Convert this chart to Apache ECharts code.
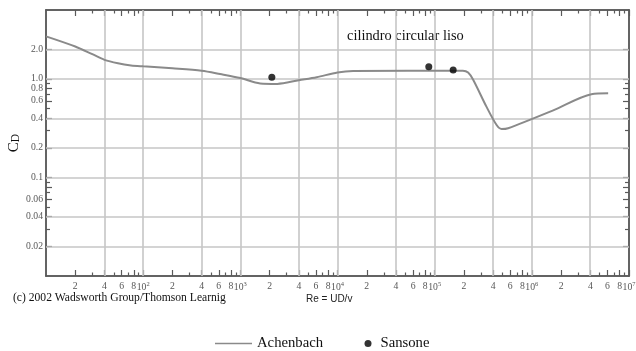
<!DOCTYPE html>
<html>
<head>
<meta charset="utf-8" />
<title>cilindro circular liso</title>
<style>
  html, body { margin: 0; padding: 0; background: #fff; }
  #chart { width: 636px; height: 351px; }
</style>
</head>
<body>
<div id="chart"></div>
<script src="https://cdn.jsdelivr.net/npm/echarts@6/dist/echarts.min.js"></script>
<script>
// Achenbach curve (Re, C_D)
var achenRe = [10, 20, 30, 40, 55, 75, 100, 200, 400, 620, 1000, 1600, 2400, 4000, 6100, 10000, 14500, 195000, 221000, 249000, 342000, 434000, 488000, 570000, 1660000, 4100000, 6100000];
var achenCd = [2.7, 2.13, 1.78, 1.56, 1.44, 1.37, 1.34, 1.28, 1.21, 1.12, 1.02, 0.9, 0.89, 0.97, 1.04, 1.16, 1.2, 1.21, 1.16, 0.98, 0.52, 0.34, 0.31, 0.316, 0.48, 0.7, 0.715];

// Sansone points
var sansRe = [2110, 87000, 155000];
var sansCd = [1.04, 1.33, 1.23];

// axes (log scales)
var xMinRe = 10, xMaxRe = 1e7;
var yMinCd = 0.01, yMaxCd = 5;
var xDecades = [10, 100, 1000, 1e4, 1e5, 1e6];
var xLongMant = [2, 4, 6, 8, 10];
var xShortMant = [3, 5, 7, 9];
var xGridRe = [40, 100, 400, 1000, 4000, 1e4, 4e4, 1e5, 4e5, 1e6, 4e6];
var yLongCd = [0.02, 0.04, 0.06, 0.08, 0.1, 0.2, 0.4, 0.6, 0.8, 1, 2];
var yShortCd = [0.03, 0.05, 0.07, 0.09, 0.3, 0.5, 0.7, 0.9];
var yLabelCd = [2, 1, 0.8, 0.6, 0.4, 0.2, 0.1, 0.06, 0.04, 0.02];
var yLabelText = ['2.0', '1.0', '0.8', '0.6', '0.4', '0.2', '0.1', '0.06', '0.04', '0.02'];
var yGridCd = [2, 1, 0.4, 0.2, 0.1, 0.04, 0.02];

var lg = function (v) { return Math.log10(v); };

var xLong = [], xShort = [], xLabels = [];
xDecades.forEach(function (d) {
  xLongMant.forEach(function (m) { xLong.push(lg(d * m)); xLabels.push(lg(d * m)); });
  xShortMant.forEach(function (m) { xShort.push(lg(d * m)); });
});

var axisColor = '#5a5a5a';
var labelColor = '#555';
var curveColor = '#8a8a8a';
var serif = '"Liberation Serif", "Times New Roman", serif';

function xAxis(pos, ticks, len, withLabels) {
  return {
    type: 'value', position: pos, min: lg(xMinRe), max: lg(xMaxRe),
    axisLine: { show: true, onZero: false, lineStyle: { color: axisColor, width: 1.5 } },
    axisTick: { show: true, inside: true, length: len, customValues: ticks,
      lineStyle: { color: axisColor, width: 1.2 } },
    axisLabel: withLabels ? {
      show: true, customValues: xLabels, margin: 5,
      color: labelColor, fontFamily: serif, fontSize: 9.7,
      formatter: function (v) {
        var k = Math.floor(v + 1e-6);
        var m = Math.round(Math.pow(10, v - k));
        if (m === 1) return '10{sup|' + k + '}';
        return String(m);
      },
      rich: { sup: { fontSize: 6.5, fontFamily: serif, color: labelColor, verticalAlign: 'top', padding: [0, 0, 5, 0] } }
    } : { show: false },
    splitLine: { show: false }
  };
}

function yAxis(pos, ticks, len, withLabels) {
  var ax = {
    type: 'value', position: pos, min: lg(yMinCd), max: lg(yMaxCd),
    axisLine: { show: true, onZero: false, lineStyle: { color: axisColor, width: 1.5 } },
    axisTick: { show: true, inside: true, length: len, customValues: ticks.map(lg),
      lineStyle: { color: axisColor, width: 1.2 } },
    axisLabel: withLabels ? {
      show: true, customValues: yLabelCd.map(lg), margin: 3,
      color: labelColor, fontFamily: serif, fontSize: 9.7,
      formatter: function (v) {
        for (var i = 0; i < yLabelCd.length; i++) {
          if (Math.abs(lg(yLabelCd[i]) - v) < 1e-6) return yLabelText[i];
        }
        return '';
      }
    } : { show: false },
    splitLine: { show: false }
  };
  if (withLabels) {
    ax.name = 'C{sub|D}';
    ax.nameLocation = 'middle';
    ax.nameGap = 24;
    ax.nameMoveOverlap = false;
    ax.nameRotate = 90;
    ax.nameTextStyle = {
      color: '#111', fontFamily: serif, fontSize: 15,
      rich: { sub: { fontSize: 11.5, fontFamily: serif, color: '#111', padding: [3, 0, 0, 0] } }
    };
  }
  return ax;
}

var chart = echarts.init(document.getElementById('chart'));
chart.setOption({
  animation: false,
  backgroundColor: '#fff',
  grid: { left: 46, right: 7, top: 10, bottom: 75, outerBoundsMode: 'none' },
  xAxis: [
    xAxis('bottom', xLong, 6, true),
    xAxis('bottom', xShort, 3.5, false),
    xAxis('top', xLong, 6, false),
    xAxis('top', xShort, 3.5, false)
  ],
  yAxis: [
    yAxis('left', yLongCd, 6, true),
    yAxis('left', yShortCd, 4, false),
    yAxis('right', yLongCd, 6, false),
    yAxis('right', yShortCd, 4, false)
  ],
  legend: [
    {
      data: [{ name: 'Achenbach', icon: 'rect', itemStyle: { color: curveColor } }],
      left: 215, top: 336, itemWidth: 37, itemHeight: 1.6, padding: 0,
      textStyle: { fontFamily: serif, fontSize: 14.7, color: '#111' }
    },
    {
      data: [{ name: 'Sansone', icon: 'circle' }], left: 364.5, top: 336, itemWidth: 15, itemHeight: 7, padding: 0,
      textStyle: { fontFamily: serif, fontSize: 14.7, color: '#111' }
    }
  ],
  graphic: [
    { type: 'text', left: 347, top: 29,
      style: { text: 'cilindro circular liso', font: '14.4px ' + serif, fill: '#111' } },
    { type: 'text', left: 13, top: 292,
      style: { text: '(c) 2002 Wadsworth Group/Thomson Learnig', font: '11.6px ' + serif, fill: '#111' } },
    { type: 'text', left: 306, top: 294,
      style: { text: 'Re = UD/v', font: '10px "Liberation Sans", Arial, sans-serif', fill: '#222' } }
  ],
  series: [
    {
      name: 'grid', type: 'line', data: [], silent: true, z: 1,
      markLine: {
        silent: true, symbol: ['none', 'none'], z: 1, animation: false,
        label: { show: false },
        lineStyle: { color: '#c6c6c6', width: 1.6, type: 'solid' },
        data: xGridRe.map(function (v) { return { xAxis: lg(v) }; })
          .concat(yGridCd.map(function (v) { return { yAxis: lg(v) }; }))
      }
    },
    {
      name: 'Achenbach', type: 'line', smooth: 0.3, symbol: 'none', z: 3,
      lineStyle: { color: curveColor, width: 2 },
      itemStyle: { color: curveColor },
      data: achenRe.map(function (r, i) { return [lg(r), lg(achenCd[i])]; })
    },
    {
      name: 'Sansone', type: 'scatter', symbol: 'circle', symbolSize: 7, z: 4,
      itemStyle: { color: '#000' },
      data: sansRe.map(function (r, i) { return [lg(r), lg(sansCd[i])]; })
    }
  ]
});
</script>
</body>
</html>
